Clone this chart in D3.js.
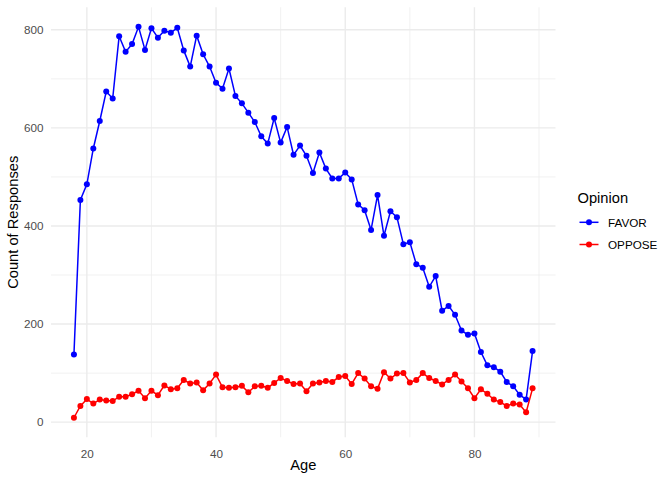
<!DOCTYPE html>
<html>
<head>
<meta charset="utf-8">
<script src="https://cdn.jsdelivr.net/npm/d3@7"></script>
<style>
  html, body { margin: 0; padding: 0; background: #fff; }
  svg { display: block; font-family: "Liberation Sans", Arial, Helvetica, sans-serif; }
</style>
</head>
<body>
<svg id="chart" width="672" height="480"></svg>
<script>
const ages = d3.range(18, 90);
const favor = [138, 453, 485, 558, 614, 674, 660, 787, 755, 771, 806, 759, 803, 784, 798, 794, 804, 758, 725, 788,
  750, 725, 692, 680, 721, 665, 650, 631, 612, 583, 568, 620, 570, 602, 545, 564, 543, 508, 550, 517,
  497, 497, 509, 495, 444, 432, 392, 463, 380, 430, 418, 363, 367, 322, 315, 276, 298, 227, 237, 219,
  187, 178, 181, 143, 116, 112, 103, 82, 73, 56, 46, 145];
const oppose = [9, 33, 47, 38, 46, 44, 43, 52, 52, 57, 64, 49, 64, 55, 75, 67, 69, 86, 79, 81,
  65, 79, 97, 71, 70, 71, 74, 61, 73, 74, 70, 80, 90, 84, 78, 79, 63, 79, 81, 84,
  82, 92, 94, 78, 100, 89, 73, 68, 102, 89, 99, 100, 81, 86, 100, 90, 84, 77, 86, 97,
  83, 69, 49, 67, 58, 46, 41, 33, 38, 36, 20, 69];
const seriesNames = ["FAVOR", "OPPOSE"];
const seriesColors = ["#0000FF", "#FF0000"];
const xTicks = [20, 40, 60, 80];
const xMinor = [30, 50, 70, 90];
const yTicks = [0, 200, 400, 600, 800];
const yMinor = [100, 300, 500, 700];

const series = [favor, oppose].map((vals, i) => ({
  name: seriesNames[i], color: seriesColors[i],
  values: vals.map((v, j) => ({ age: ages[j], count: v }))
}));

const panel = { left: 51, right: 555.5, top: 7.3, bottom: 437.3 };
const svg = d3.select("#chart");

function expand(ext) { const r = ext[1] - ext[0]; return [ext[0] - 0.05 * r, ext[1] + 0.05 * r]; }
const x = d3.scaleLinear().domain(expand(d3.extent(ages))).range([panel.left, panel.right]);
const allVals = favor.concat(oppose);
const y = d3.scaleLinear().domain(expand(d3.extent(allVals))).range([panel.bottom, panel.top]);

const grid = svg.append("g");
// minor grid
grid.selectAll(".ymin").data(yMinor).join("line")
  .attr("x1", panel.left).attr("x2", panel.right)
  .attr("y1", d => y(d)).attr("y2", d => y(d))
  .attr("stroke", "#EBEBEB").attr("stroke-width", 0.7);
grid.selectAll(".xmin").data(xMinor.filter(d => x(d) <= panel.right)).join("line")
  .attr("y1", panel.top).attr("y2", panel.bottom)
  .attr("x1", d => x(d)).attr("x2", d => x(d))
  .attr("stroke", "#EBEBEB").attr("stroke-width", 0.7);
// major grid
grid.selectAll(".ymaj").data(yTicks).join("line")
  .attr("x1", panel.left).attr("x2", panel.right)
  .attr("y1", d => y(d)).attr("y2", d => y(d))
  .attr("stroke", "#EBEBEB").attr("stroke-width", 1.4);
grid.selectAll(".xmaj").data(xTicks).join("line")
  .attr("y1", panel.top).attr("y2", panel.bottom)
  .attr("x1", d => x(d)).attr("x2", d => x(d))
  .attr("stroke", "#EBEBEB").attr("stroke-width", 1.4);

// axes via d3 axis generators (no lines, only labels)
const xAxis = svg.append("g").attr("transform", `translate(0,${panel.bottom})`)
  .call(d3.axisBottom(x).tickValues(xTicks).tickSize(0).tickPadding(12));
xAxis.select(".domain").remove();
xAxis.selectAll("text").attr("font-size", "11.7px").attr("fill", "#4D4D4D")
  .attr("font-family", "Liberation Sans, Arial, sans-serif");

const yAxis = svg.append("g").attr("transform", `translate(${panel.left},0)`)
  .call(d3.axisLeft(y).tickValues(yTicks).tickSize(0).tickPadding(7.5));
yAxis.select(".domain").remove();
yAxis.selectAll("text").attr("font-size", "11.7px").attr("fill", "#4D4D4D")
  .attr("font-family", "Liberation Sans, Arial, sans-serif");

// lines and points
const line = d3.line().x(d => x(d.age)).y(d => y(d.count));
const sg = svg.append("g").selectAll("g").data(series).join("g");
sg.append("path").attr("d", d => line(d.values)).attr("fill", "none")
  .attr("stroke", d => d.color).attr("stroke-width", 1.5);
sg.each(function (s) {
  d3.select(this).selectAll("circle").data(s.values).join("circle")
    .attr("cx", d => x(d.age)).attr("cy", d => y(d.count)).attr("r", 3)
    .attr("fill", s.color);
});

// axis titles
svg.append("text").attr("x", (panel.left + panel.right) / 2).attr("y", 470)
  .attr("text-anchor", "middle").attr("font-size", "14.7px").attr("fill", "#000").text("Age");
svg.append("text").attr("transform", `translate(18,${(panel.top + panel.bottom) / 2}) rotate(-90)`)
  .attr("text-anchor", "middle").attr("font-size", "14.7px").attr("fill", "#000").text("Count of Responses");

// legend
const lg = svg.append("g");
lg.append("text").attr("x", 577.5).attr("y", 202.5).attr("font-size", "14.7px").attr("fill", "#000").text("Opinion");
const keyY = [222.3, 244.5];
const items = lg.selectAll(".item").data(series).join("g")
  .attr("transform", (d, i) => `translate(0,${keyY[i]})`);
items.append("line").attr("x1", 579.5).attr("x2", 598.5).attr("y1", 0).attr("y2", 0)
  .attr("stroke", d => d.color).attr("stroke-width", 1.5);
items.append("circle").attr("cx", 589).attr("cy", 0).attr("r", 3).attr("fill", d => d.color);
items.append("text").attr("x", 608).attr("y", 4.3).attr("font-size", "11.7px").attr("fill", "#000")
  .text(d => d.name);
</script>
</body>
</html>
